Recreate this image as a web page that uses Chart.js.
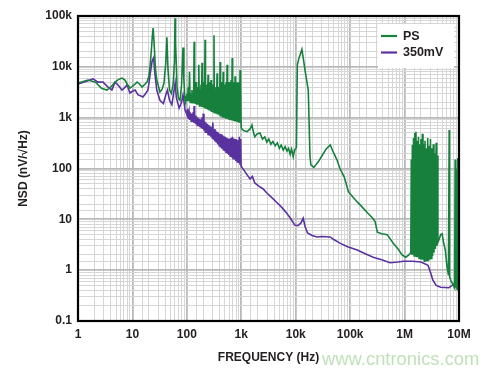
<!DOCTYPE html>
<html>
<head>
<meta charset="utf-8">
<script src="https://cdn.jsdelivr.net/npm/chart.js@4"></script>
<style>
  body { margin: 0; background: #fff; }
  canvas { display: block; }
</style>
</head>
<body>
<canvas id="nsd" width="500" height="375"></canvas>
<script>
// values (Hz, nV/rtHz)
const seriesNames = ['PS', '350mV'];
const seriesColors = ['#17803d', '#5a32a0'];

const psFreq = [
  1, 1.53, 2.1, 2.7, 3.41, 4.2, 4.79, 5.5, 6.44, 7.3, 8, 9, 10.5, 12.2, 13.5, 15, 16.5, 18.5, 20, 21, 22.2, 23.2, 24, 25, 26.5, 28, 30, 32, 35, 38, 41, 43, 45, 48, 52, 56, 59, 60.7, 62, 66, 70, 75, 80, 85, 88, 92,
  95, 98, 100, 103, 106, 109, 112, 115, 118, 121, 124, 127, 130, 133, 136, 139, 142, 145, 148, 151, 155, 158, 161, 164, 167, 170, 174, 178, 182, 186, 190, 194, 198, 202, 207, 211, 216, 220, 225, 229, 234, 239, 245, 250, 256, 261, 267, 272, 278, 284, 290, 296, 302, 308,
  315, 321, 328, 335, 342, 349, 359, 366, 374, 382, 390, 398, 408, 416, 425, 434, 443, 452, 465, 474, 484, 494, 504, 515, 526, 537, 549, 560, 572, 584, 597, 610, 623, 636, 650, 665, 680, 694, 709, 724, 740, 755, 769, 785, 802, 819, 836, 854, 872, 890, 909, 928, 950, 965, 980, 992,
  1000, 1100, 1280, 1450, 1570, 1700, 1770, 1950, 2200, 2450, 2700, 2950, 3200, 3500, 3800, 4200, 4600, 5000, 5400, 5900, 6400, 6900, 7400, 7900, 8400, 9000, 9500, 10100,
  10300, 10700, 11500, 13000, 15000, 17000, 18300, 19000, 21500, 26000, 30600, 36000, 43000, 50000, 57000, 65000, 78000, 93000, 110000, 135000, 170000, 214000, 260000, 288000, 316000, 380000, 480000, 620000, 760000, 900000, 1050000, 1200000,
  1300000, 1330000, 1360000, 1390000, 1420000, 1460000, 1500000, 1540000, 1580000, 1620000, 1660000, 1700000, 1750000, 1800000, 1850000, 1900000, 1950000, 2000000, 2060000, 2120000, 2180000, 2240000, 2300000, 2370000, 2440000, 2510000, 2580000, 2660000, 2740000, 2820000, 2900000, 2990000, 3080000, 3170000, 3270000, 3370000, 3470000, 3570000, 3680000, 3800000, 3900000, 4000000, 4100000,
  4300000, 4600000, 4900000, 5200000, 5600000, 6000000, 6400000, 6600000, 6700000, 7200000, 7800000, 8300000, 8500000, 8700000, 9000000, 9200000, 9500000, 9700000, 10000000
];
const psNsd = [
  4800, 5500, 5000, 3800, 3500, 4200, 5000, 5600, 6000, 5500, 4600, 3800, 4300, 5000, 4600, 4000, 4400, 5000, 6500, 9900, 20000, 40000, 58000, 30000, 9000, 5500, 4200, 3200, 3600, 4800, 12000, 38000, 9000, 3500, 3000, 4500, 12000, 90000, 30000, 4000, 2400, 2200, 4500, 24000, 6000, 2300,
  2000, 2600, 3000, 2100, 4000, 2100, 8000, 2000, 3000, 2000, 3500, 1900, 3000, 1900, 31000, 1900, 3500, 1850, 5000, 1800, 3500, 1800, 4000, 1800, 11000, 1700, 3500, 1700, 4500, 1650, 12000, 1600, 4000, 1600, 5000, 1550, 34000, 1500, 3500, 1500, 4500, 1450, 7000, 1400, 4000, 1400, 5000, 1350, 5500, 1300, 3500, 1300, 4500, 1300,
  42000, 1250, 3500, 1250, 4000, 1200, 7500, 1150, 3500, 1150, 4000, 1100, 12400, 1050, 4000, 1050, 5000, 1000, 8000, 1000, 3500, 1000, 4500, 950, 5000, 950, 11000, 950, 4000, 920, 5000, 900, 4500, 900, 5500, 880, 15000, 880, 4500, 860, 5000, 850, 6500, 840, 4000, 830, 5000, 820, 4500, 800, 5000, 790, 8700, 780, 5000, 760,
  620, 560, 530, 600, 717, 480, 420, 480, 500, 380, 420, 330, 380, 300, 340, 280, 320, 250, 290, 230, 270, 220, 250, 190, 240, 170, 230, 250,
  260, 10800, 15000, 22000, 8000, 3500, 170, 118, 105, 135, 180, 240, 290, 200, 150, 100, 68, 35, 28, 22, 17, 13, 10.5, 9, 5.6, 5.2, 5, 3.4, 2.6, 2, 1.8, 2,
  2.2, 150, 2.0, 290, 2.0, 400, 1.9, 500, 1.9, 530, 1.8, 350, 1.8, 420, 1.7, 300, 1.7, 380, 1.6, 480, 1.6, 300, 1.5, 350, 1.5, 250, 1.5, 400, 1.5, 280, 1.6, 380, 1.7, 250, 1.9, 300, 2.2, 200, 2.6, 320, 3, 180, 3.5,
  4, 5, 5.2, 3.5, 2.5, 1.2, 0.8, 570, 0.75, 0.6, 0.52, 0.45, 150, 0.45, 100, 0.42, 160, 0.4, 0.4
];

const mvFreq = [
  1, 1.53, 1.89, 2.33, 2.88, 3.56, 4.2, 4.79, 5.44, 6.44, 7.2, 7.96, 9, 10, 11.2, 12.7, 14, 15.6, 17.5, 19.3, 21.5, 23, 24.5, 26, 28, 32, 37, 41, 44, 48, 53, 57, 61, 64, 72, 80, 85, 93,
  100, 103, 106, 110, 113, 117, 120, 124, 127, 131, 134, 136, 139, 143, 147, 151, 155, 160, 164, 169, 174, 179, 184, 190, 195, 200, 206, 212, 218, 224, 231, 238, 245, 252, 260, 268, 276, 284, 292,
  300, 309, 318, 328, 338, 348, 358, 369, 380, 391, 403, 415, 427, 440, 453, 467, 481, 495, 510, 525, 541, 557, 574, 591, 609, 627, 646, 665, 685, 706, 727, 749, 771, 794, 818, 843, 868, 894, 921, 949, 975, 990,
  1000, 1100, 1280, 1450, 1600, 1770, 2100, 2500, 2950, 3600, 4600, 5600, 6900, 8000, 9600, 11000, 12500, 13700, 15000, 16500, 20000, 24600, 30000, 43000, 50000, 65000, 90000, 135000, 190000, 265000, 380000, 540000, 750000, 950000, 1400000, 2000000, 2700000, 3000000, 3300000, 3800000, 4600000, 6500000, 7500000, 8300000, 8600000
];
const mvNsd = [
  4600, 5300, 5800, 5000, 5000, 4000, 3500, 5000, 4400, 3500, 3900, 4400, 3060, 3300, 3500, 2800, 2700, 2550, 3000, 3500, 8000, 13000, 15000, 7000, 3500, 2200, 1900, 2800, 3500, 2200, 1800, 3000, 4800, 2500, 1550, 2000, 2800, 1400,
  1150, 1500, 950, 1300, 900, 1250, 850, 1200, 820, 1300, 800, 1700, 780, 1100, 740, 1050, 700, 1000, 680, 950, 650, 900, 620, 1000, 600, 1200, 560, 850, 520, 800, 500, 760, 470, 720, 440, 680, 420, 650, 400,
  800, 370, 600, 340, 560, 320, 530, 300, 500, 280, 480, 260, 470, 245, 450, 235, 430, 220, 420, 210, 400, 195, 390, 185, 380, 175, 400, 165, 420, 155, 390, 150, 380, 140, 370, 135, 360, 128, 420, 122, 380, 118,
  110, 95, 75, 62, 70, 52, 45, 40, 33, 27, 21, 17, 13, 10.5, 7.7, 7.5, 8.5, 10.5, 7, 5.4, 4.8, 4.5, 4.6, 4.5, 4.0, 3.4, 2.9, 2.5, 2.1, 1.8, 1.6, 1.4, 1.45, 1.5, 1.5, 1.45, 1.25, 0.9, 0.64, 0.5, 0.46, 0.45, 0.5, 0.55, 0.5
];

const xTickLabels = ['1', '10', '100', '1k', '10k', '100k', '1M', '10M'];
const yTickLabels = ['0.1', '1', '10', '100', '1k', '10k', '100k'];

const FONT = '"Liberation Sans", Arial, sans-serif';

function toPoints(xs, ys) {
    return xs.map((x, i) => ({ x: x, y: ys[i] }));
}

function isDecade(v) {
    const e = Math.log10(v);
    return Math.abs(e - Math.round(e)) < 1e-6;
}

const gridColor = ctx => (ctx.tick && isDecade(ctx.tick.value)) ? '#b9b9b9' : '#d6d6d6';
const gridWidth = ctx => (ctx.tick && isDecade(ctx.tick.value)) ? 1.8 : 1;

const framePlugin = {
    id: 'frame',
    afterDraw: chart => {
        const ctx = chart.ctx;
        const a = chart.chartArea;
        ctx.save();

        // legend box
        const bx = 378, by = 24, bw = 76, bh = 44;
        ctx.fillStyle = '#ffffff';
        ctx.fillRect(bx, by, bw, bh);
        ctx.font = 'bold 12.5px ' + FONT;
        ctx.textBaseline = 'middle';
        seriesNames.forEach((name, i) => {
            const ly = 36 + i * 16.5;
            ctx.strokeStyle = seriesColors[i];
            ctx.lineWidth = 2.2;
            ctx.beginPath();
            ctx.moveTo(381, ly);
            ctx.lineTo(397, ly);
            ctx.stroke();
            ctx.fillStyle = '#231f20';
            ctx.fillText(name, 403, ly + 0.5);
        });

        // plot frame
        ctx.strokeStyle = '#000';
        ctx.lineWidth = 2.2;
        ctx.strokeRect(a.left, a.top, a.right - a.left, a.bottom - a.top);

        // watermark
        ctx.font = '18.4px ' + FONT;
        ctx.fillStyle = 'rgba(170, 215, 160, 0.75)';
        ctx.textBaseline = 'middle';
        ctx.textAlign = 'left';
        ctx.fillText('www.cntronics.com', 322, 360);
        ctx.restore();
    }
};

new Chart(document.getElementById('nsd'), {
    type: 'line',
    data: {
        datasets: [
            {
                label: seriesNames[0],
                data: toPoints(psFreq, psNsd),
                borderColor: seriesColors[0],
                borderWidth: 1.6,
                pointRadius: 0,
                tension: 0
            },
            {
                label: seriesNames[1],
                data: toPoints(mvFreq, mvNsd),
                borderColor: seriesColors[1],
                borderWidth: 1.6,
                pointRadius: 0,
                tension: 0
            }
        ]
    },
    options: {
        responsive: false,
        animation: false,
        parsing: false,
        layout: { padding: { left: 0, top: 16, right: 41, bottom: 0 } },
        plugins: {
            legend: { display: false },
            tooltip: { enabled: false }
        },
        scales: {
            x: {
                type: 'logarithmic',
                min: 1,
                max: 1e7,
                afterFit: scale => { scale.height = 54; },
                border: { display: false },
                grid: { color: gridColor, lineWidth: gridWidth, drawTicks: false },
                ticks: {
                    autoSkip: false,
                    maxRotation: 0,
                    padding: 6,
                    color: '#231f20',
                    font: { family: FONT, size: 12, weight: 'bold' },
                    callback: v => isDecade(v) ? xTickLabels[Math.round(Math.log10(v))] : ''
                },
                title: {
                    display: true,
                    text: 'FREQUENCY (Hz)',
                    color: '#231f20',
                    font: { family: FONT, size: 12, weight: 'bold' },
                    padding: { top: 0, bottom: 10 }
                }
            },
            y: {
                type: 'logarithmic',
                min: 0.1,
                max: 1e5,
                afterFit: scale => { scale.width = 78; },
                border: { display: false },
                grid: { color: gridColor, lineWidth: gridWidth, drawTicks: false },
                ticks: {
                    autoSkip: false,
                    padding: 6,
                    color: '#231f20',
                    font: { family: FONT, size: 12, weight: 'bold' },
                    callback: v => isDecade(v) ? yTickLabels[Math.round(Math.log10(v)) + 1] : ''
                },
                title: {
                    display: true,
                    text: 'NSD (nV/√Hz)',
                    color: '#231f20',
                    font: { family: FONT, size: 12, weight: 'bold' },
                    padding: { top: 16, bottom: 0 }
                }
            }
        }
    },
    plugins: [framePlugin]
});
</script>
</body>
</html>
